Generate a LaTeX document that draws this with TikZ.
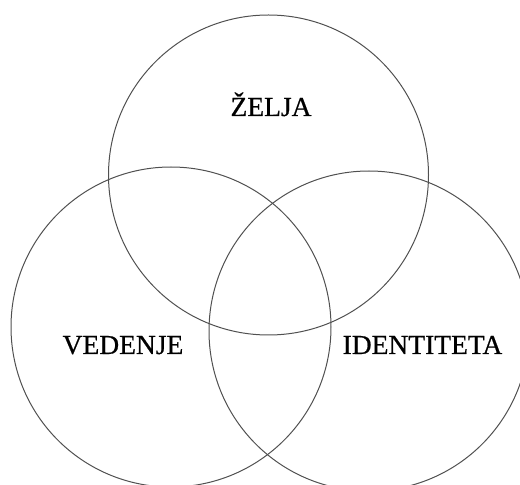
\documentclass[tikz,border=0pt]{standalone}
\usepackage{fontspec}
\setmainfont{Liberation Serif}
\newfontfamily\labelfont[FakeBold=0.6]{Liberation Serif}
\definecolor{ringgray}{RGB}{80,80,80}
\begin{document}
\begin{tikzpicture}[x=1pt,y=1pt]
        \useasboundingbox (0,0) rectangle (520,485);
        \tikzset{ring/.style={draw=ringgray,line width=1pt,circle,minimum size=320pt,inner sep=0pt},
                 word/.style={anchor=base,inner sep=0pt,font=\labelfont\fontsize{27.5}{31}\selectfont}}

        \node[ring] (Z) at (268.5,310) {};
        \node[ring] (V) at (171,158) {};
        \node[ring] (I) at (369,154) {};

        \node[word] (zelja) at (271,369) {ŽELJA};
        \node[word] (vedenje) at (123,131) {VEDENJE};
        \node[word] (identiteta) at (422.5,131) {IDENTITETA};
    \end{tikzpicture}
\end{document}
